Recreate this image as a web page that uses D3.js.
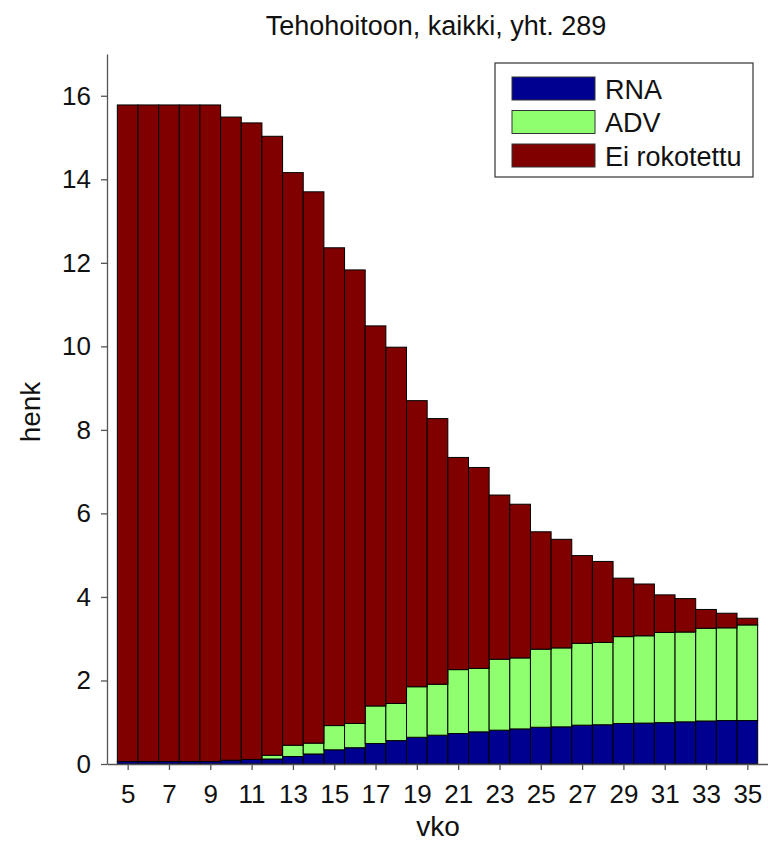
<!DOCTYPE html>
<html><head><meta charset="utf-8">
<script src="https://cdn.jsdelivr.net/npm/d3@7"></script>
<style>body{margin:0;background:#fff}svg{display:block}text{font-family:"Liberation Sans",Arial,sans-serif}</style>
</head><body><svg id="c" width="768" height="843"></svg>
<script>
const weeks = [5,6,7,8,9,10,11,12,13,14,15,16,17,18,19,20,21,22,23,24,25,26,27,28,29,30,31,32,33,34,35];
const rna = [0.06,0.06,0.06,0.06,0.06,0.09,0.11,0.12,0.18,0.24,0.34,0.39,0.49,0.56,0.64,0.69,0.73,0.77,0.81,0.84,0.88,0.89,0.93,0.94,0.97,0.98,0.99,1.01,1.03,1.04,1.04];
const adv = [0,0,0,0,0,0,0,0.09,0.27,0.26,0.58,0.58,0.90,0.89,1.21,1.22,1.53,1.52,1.70,1.70,1.87,1.89,1.96,1.97,2.08,2.09,2.16,2.15,2.22,2.22,2.29];
const unvacc = [15.72,15.72,15.72,15.72,15.72,15.40,15.24,14.82,13.71,13.20,11.44,10.86,9.10,8.53,6.85,6.36,5.08,4.81,3.93,3.68,2.81,2.60,2.10,1.94,1.40,1.24,0.90,0.80,0.45,0.35,0.16];
const seriesNames = ["RNA","ADV","Ei rokotettu"];
const colors = ["#000090","#8fff6f","#800000"];
const xTicks = [5,7,9,11,13,15,17,19,21,23,25,27,29,31,33,35];
const yTicks = [0,2,4,6,8,10,12,14,16];
const title = "Tehohoitoon, kaikki, yht. 289";

const svg = d3.select("#c");
const x = d3.scaleLinear().domain([4,36]).range([107,768]);
const y = d3.scaleLinear().domain([0,17]).range([764,54]);

const rows = weeks.map((w,i)=>({w, RNA:rna[i], ADV:adv[i], "Ei rokotettu":unvacc[i]}));
const stack = d3.stack().keys(seriesNames)(rows);

const g = svg.append("g");
stack.forEach((s,si)=>{
  g.selectAll(null).data(s).enter().append("rect")
    .attr("x", d=>x(d.data.w-0.5))
    .attr("width", d=>x(d.data.w+0.5)-x(d.data.w-0.5))
    .attr("y", d=>y(d[1]))
    .attr("height", d=>Math.max(0,y(d[0])-y(d[1])))
    .attr("fill", colors[si])
    .attr("stroke","#000").attr("stroke-width",1);
});

const xa = svg.append("g").attr("transform","translate(0,764)")
  .call(d3.axisBottom(x).tickValues(xTicks).tickSizeOuter(0).tickSizeInner(6).tickPadding(15));
const ya = svg.append("g").attr("transform","translate(107,0)")
  .call(d3.axisLeft(y).tickValues(yTicks).tickSizeOuter(0).tickSizeInner(6).tickPadding(10));
[xa,ya].forEach(a=>{
  a.selectAll("path,line").attr("stroke","#555").attr("stroke-width",1.3);
  a.selectAll("text").attr("font-size",26).attr("fill","#111").attr("font-family","Liberation Sans, Arial, sans-serif");
});

svg.append("text").attr("x",436).attr("y",35).attr("text-anchor","middle").attr("font-size",27).attr("fill","#111").text(title);
svg.append("text").attr("x",438).attr("y",836).attr("text-anchor","middle").attr("font-size",28).attr("fill","#111").text("vko");
svg.append("text").attr("transform","translate(40,412) rotate(-90)").attr("text-anchor","middle").attr("font-size",28).attr("fill","#111").text("henk");

const lg = svg.append("g");
lg.append("rect").attr("x",495).attr("y",63).attr("width",258).attr("height",114).attr("fill","#fff").attr("stroke","#333").attr("stroke-width",1.2);
seriesNames.forEach((n,i)=>{
  const yy = 77 + i*33.5;
  lg.append("rect").attr("x",512).attr("y",yy).attr("width",83).attr("height",23).attr("fill",colors[i]).attr("stroke","#333").attr("stroke-width",1);
  lg.append("text").attr("x",605).attr("y",yy+21.5).attr("font-size",27).attr("fill","#111").text(n);
});
</script></body></html>
